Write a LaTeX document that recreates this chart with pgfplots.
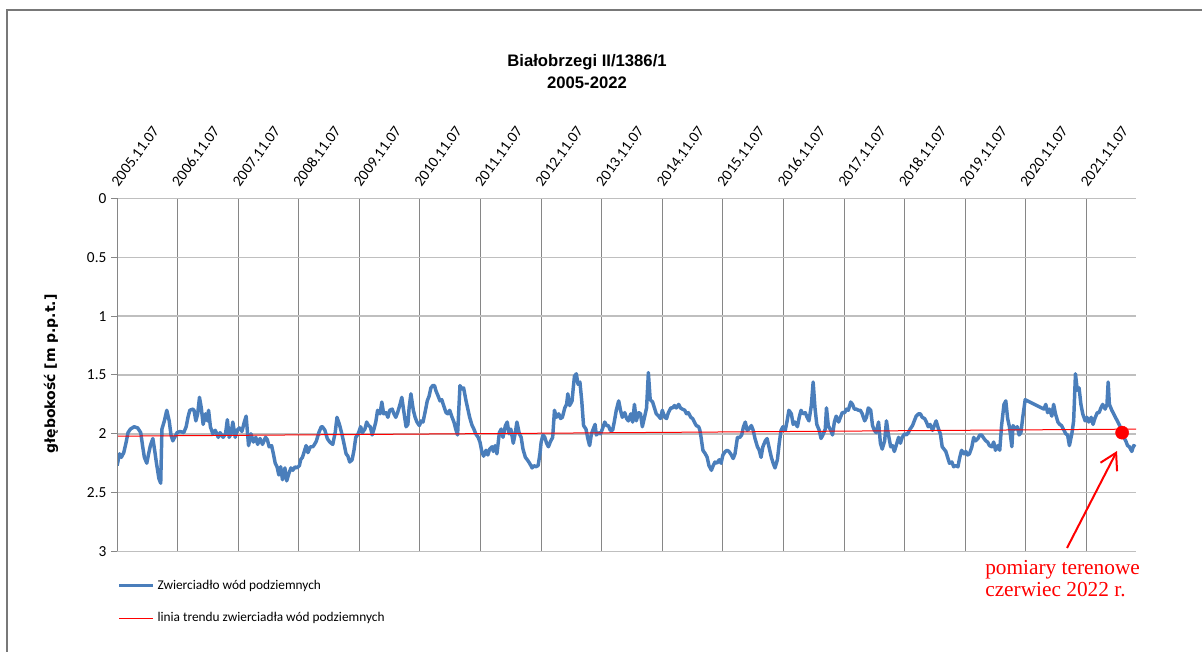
\documentclass[border=0pt]{standalone}
\usepackage{fontspec}
\setmainfont{Carlito}
\newfontfamily\titlefont{Liberation Sans}
\newfontfamily\labelfont{DejaVu Sans}
\newfontfamily\notefont{Liberation Serif}
\usepackage{pgfplots}
\pgfplotsset{compat=1.18}
\usetikzlibrary{arrows.meta}

\definecolor{seria}{RGB}{74,126,187}
\definecolor{trend}{RGB}{255,0,0}
\definecolor{siatkax}{RGB}{134,134,134}
\definecolor{siatkay}{RGB}{191,191,191}
\definecolor{ramka}{RGB}{120,120,120}

\begin{document}
\begin{tikzpicture}
\path[use as bounding box] (0pt,0pt) rectangle (901.5pt,-489pt);

\begin{axis}[
  at={(87.825pt,-413.6pt)}, anchor=south west,
  scale only axis, width=764.2pt, height=264.75pt,
  xmin=0, xmax=16.82, ymin=0, ymax=3, y dir=reverse,
  axis line style={draw=none},
  xtick={0,1,2,3,4,5,6,7,8,9,10,11,12,13,14,15,16},
  xticklabels={2005.11.07,2006.11.07,2007.11.07,2008.11.07,2009.11.07,2010.11.07,2011.11.07,2012.11.07,2013.11.07,2014.11.07,2015.11.07,2016.11.07,2017.11.07,2018.11.07,2019.11.07,2020.11.07,2021.11.07},
  xticklabel pos=right,
  xtick style={draw=none},
  xticklabel style={rotate=54, anchor=south west, inner sep=1pt, xshift=2.5pt, font=\fontsize{11.5}{13}\selectfont},
  ytick={0,0.5,1,1.5,2,2.5,3},
  ytick pos=left, tick align=outside, major tick length=4.5pt,
  ytick style={siatkax, line width=0.75pt},
  yticklabel style={font=\fontsize{11.5}{13}\selectfont},
  /pgf/number format/assume math mode=true,
  xmajorgrids, ymajorgrids,
  x grid style={siatkax, line width=0.75pt},
  y grid style={siatkay, line width=1.1pt},
  legend style={at={(axis description cs:0,-0.072)}, anchor=north west,
    draw=none, fill=none, inner sep=0pt, row sep=12pt,
    font=\fontsize{10}{12}\selectfont, cells={anchor=west}},
  legend image code/.code={\draw[#1] (0pt,0pt) -- (25.5pt,0pt);},
]

% zwierciadlo wod podziemnych (odczyt z wykresu), x = lata od 2005.11.07
\addplot[seria, line width=2.6pt, line join=round] coordinates {
(0.00,2.27) (0.04,2.17) (0.07,2.20) (0.11,2.16) (0.15,2.07) (0.18,1.99) (0.22,1.96) (0.28,1.94)
(0.34,1.95) (0.39,1.99) (0.42,2.10) (0.45,2.20) (0.49,2.25) (0.52,2.17) (0.55,2.10) (0.59,2.04)
(0.62,2.14) (0.65,2.25) (0.69,2.38) (0.72,2.42) (0.74,1.96) (0.78,1.89) (0.82,1.80) (0.86,1.89)
(0.89,2.01) (0.92,2.06) (0.95,2.03) (0.99,1.99) (1.04,1.98) (1.10,1.99) (1.14,1.94) (1.17,1.86)
(1.20,1.80) (1.25,1.79) (1.27,1.80) (1.30,1.89) (1.33,1.83) (1.36,1.69) (1.39,1.78) (1.42,1.92)
(1.46,1.83) (1.49,1.89) (1.51,1.80) (1.54,1.94) (1.58,2.00) (1.62,1.97) (1.67,2.03) (1.70,1.99)
(1.75,2.03) (1.79,2.00) (1.82,1.88) (1.85,2.03) (1.88,2.00) (1.91,1.90) (1.95,2.03) (1.98,1.97)
(2.02,1.95) (2.06,1.98) (2.10,1.90) (2.13,1.85) (2.17,2.10) (2.21,2.00) (2.25,2.07) (2.29,2.03)
(2.32,2.09) (2.36,2.04) (2.40,2.09) (2.45,2.03) (2.48,2.05) (2.51,2.11) (2.55,2.10) (2.58,2.17)
(2.61,2.25) (2.64,2.28) (2.67,2.35) (2.70,2.28) (2.73,2.39) (2.77,2.29) (2.80,2.40) (2.84,2.33)
(2.87,2.29) (2.90,2.31) (2.94,2.28) (2.97,2.29) (3.01,2.27) (3.03,2.22) (3.06,2.20) (3.09,2.15)
(3.12,2.10) (3.15,2.16) (3.19,2.11) (3.23,2.11) (3.26,2.09) (3.29,2.06) (3.33,1.99) (3.37,1.94)
(3.39,1.94) (3.43,1.97) (3.47,2.04) (3.51,2.07) (3.56,2.09) (3.60,1.99) (3.63,1.86) (3.67,1.92)
(3.71,2.00) (3.74,2.07) (3.78,2.17) (3.81,2.19) (3.84,2.24) (3.88,2.22) (3.91,2.14) (3.94,2.03)
(3.98,2.00) (4.02,1.94) (4.05,1.99) (4.09,1.96) (4.12,1.90) (4.15,1.93) (4.18,1.94) (4.21,2.01)
(4.24,1.96) (4.27,1.90) (4.30,1.80) (4.34,1.83) (4.37,1.73) (4.40,1.83) (4.44,1.82) (4.47,1.86)
(4.50,1.80) (4.54,1.79) (4.57,1.83) (4.60,1.86) (4.63,1.82) (4.67,1.75) (4.70,1.69) (4.73,1.80)
(4.77,1.94) (4.80,1.92) (4.82,1.78) (4.85,1.66) (4.89,1.80) (4.92,1.86) (4.95,1.90) (4.99,1.93)
(5.02,1.89) (5.05,1.90) (5.09,1.80) (5.12,1.72) (5.15,1.68) (5.18,1.61) (5.21,1.59) (5.24,1.59)
(5.26,1.63) (5.30,1.68) (5.33,1.72) (5.36,1.71) (5.39,1.76) (5.43,1.82) (5.46,1.83) (5.49,1.80)
(5.53,1.86) (5.56,1.90) (5.59,1.96) (5.62,2.01) (5.66,1.59) (5.69,1.62) (5.72,1.61) (5.76,1.72)
(5.79,1.79) (5.82,1.86) (5.86,1.93) (5.89,1.96) (5.92,2.00) (5.96,2.03) (5.99,2.07) (6.02,2.15)
(6.05,2.19) (6.09,2.14) (6.12,2.18) (6.15,2.13) (6.19,2.11) (6.21,2.15) (6.24,2.10) (6.27,2.17)
(6.31,1.99) (6.34,1.96) (6.37,2.03) (6.41,1.93) (6.44,1.90) (6.47,2.00) (6.50,1.96) (6.54,2.08)
(6.57,2.00) (6.60,1.90) (6.64,2.00) (6.67,2.03) (6.70,2.13) (6.74,2.20) (6.77,2.22) (6.81,2.25)
(6.85,2.29) (6.88,2.27) (6.91,2.28) (6.95,2.27) (6.98,2.17) (7.00,2.07) (7.03,2.01) (7.06,2.03)
(7.09,2.08) (7.12,2.11) (7.15,2.07) (7.19,2.03) (7.22,1.80) (7.25,1.86) (7.29,1.83) (7.32,1.87)
(7.35,1.86) (7.39,1.78) (7.42,1.75) (7.44,1.66) (7.47,1.76) (7.51,1.72) (7.53,1.61) (7.55,1.51)
(7.58,1.49) (7.61,1.58) (7.64,1.56) (7.67,1.72) (7.70,1.93) (7.74,1.96) (7.77,2.04) (7.80,2.10)
(7.83,2.00) (7.86,1.96) (7.89,1.92) (7.91,2.01) (7.95,1.99) (7.98,2.00) (8.01,1.96) (8.05,1.90)
(8.08,1.93) (8.11,1.93) (8.14,1.97) (8.18,1.97) (8.21,1.89) (8.24,1.80) (8.28,1.72) (8.31,1.80)
(8.34,1.86) (8.38,1.82) (8.41,1.87) (8.44,1.89) (8.48,1.83) (8.51,1.90) (8.54,1.75) (8.57,1.89)
(8.61,1.82) (8.64,1.83) (8.67,1.94) (8.71,1.85) (8.74,1.78) (8.77,1.48) (8.80,1.71) (8.84,1.73)
(8.87,1.78) (8.90,1.83) (8.94,1.85) (8.97,1.87) (9.00,1.80) (9.04,1.86) (9.07,1.87) (9.10,1.82)
(9.14,1.78) (9.17,1.78) (9.20,1.76) (9.23,1.78) (9.27,1.75) (9.30,1.78) (9.33,1.79) (9.37,1.80)
(9.40,1.83) (9.43,1.82) (9.47,1.86) (9.50,1.87) (9.53,1.90) (9.56,1.93) (9.60,1.94) (9.62,1.97)
(9.64,2.03) (9.67,2.14) (9.71,2.17) (9.74,2.20) (9.77,2.27) (9.81,2.31) (9.84,2.27) (9.87,2.24)
(9.90,2.25) (9.94,2.22) (9.97,2.25) (10.00,2.18) (10.04,2.15) (10.07,2.14) (10.10,2.15) (10.14,2.18)
(10.17,2.21) (10.20,2.17) (10.24,2.03) (10.28,2.03) (10.31,2.01) (10.34,1.94) (10.37,1.90) (10.40,1.97)
(10.43,1.96) (10.47,1.93) (10.50,1.97) (10.53,2.04) (10.57,2.11) (10.60,2.14) (10.63,2.20) (10.66,2.11)
(10.70,2.06) (10.73,2.04) (10.76,2.11) (10.80,2.20) (10.83,2.25) (10.86,2.29) (10.90,2.22) (10.93,2.08)
(10.96,1.97) (10.99,1.94) (11.03,1.97) (11.06,1.89) (11.09,1.80) (11.13,1.83) (11.16,1.92) (11.19,1.90)
(11.23,1.94) (11.26,1.86) (11.29,1.80) (11.32,1.83) (11.36,1.82) (11.39,1.86) (11.42,1.89) (11.46,1.76)
(11.49,1.56) (11.52,1.78) (11.55,1.92) (11.59,1.97) (11.62,2.04) (11.65,2.01) (11.69,1.96) (11.71,1.78)
(11.74,1.93) (11.78,1.97) (11.81,2.01) (11.84,1.90) (11.87,1.85) (11.91,1.90) (11.94,1.86) (11.97,1.82)
(12.01,1.82) (12.04,1.79) (12.07,1.80) (12.11,1.73) (12.14,1.75) (12.17,1.79) (12.20,1.79) (12.24,1.80)
(12.27,1.80) (12.30,1.83) (12.34,1.89) (12.37,1.86) (12.40,1.78) (12.44,1.80) (12.47,1.93) (12.50,1.97)
(12.53,1.99) (12.57,1.90) (12.60,2.08) (12.63,2.13) (12.67,2.06) (12.70,1.89) (12.73,2.00) (12.77,2.11)
(12.80,2.10) (12.83,2.15) (12.86,2.10) (12.90,2.03) (12.93,2.08) (12.96,2.03) (13.00,2.00) (13.03,2.01)
(13.06,1.99) (13.09,1.96) (13.13,1.93) (13.16,1.89) (13.19,1.85) (13.23,1.83) (13.26,1.83) (13.29,1.86)
(13.33,1.87) (13.36,1.90) (13.39,1.94) (13.42,1.92) (13.46,1.97) (13.49,1.93) (13.52,1.89) (13.56,1.96)
(13.59,2.00) (13.62,2.11) (13.68,2.15) (13.71,2.20) (13.74,2.25) (13.78,2.24) (13.81,2.28) (13.84,2.27)
(13.88,2.28) (13.91,2.20) (13.94,2.14) (13.98,2.17) (14.01,2.15) (14.04,2.18) (14.07,2.17) (14.11,2.11)
(14.14,2.03) (14.17,2.06) (14.21,2.04) (14.24,2.01) (14.27,2.01) (14.31,2.04) (14.34,2.06) (14.37,2.07)
(14.40,2.10) (14.44,2.11) (14.47,2.07) (14.50,2.14) (14.54,2.10) (14.57,2.14) (14.60,1.93) (14.64,1.75)
(14.67,1.72) (14.70,1.87) (14.73,1.94) (14.77,2.11) (14.79,1.93) (14.82,1.96) (14.86,1.94) (14.89,2.01)
(14.92,1.99) (14.95,1.86) (14.99,1.71) (15.30,1.79) (15.33,1.75) (15.36,1.82) (15.39,1.79) (15.43,1.85)
(15.46,1.75) (15.49,1.83) (15.53,1.90) (15.56,1.92) (15.59,1.93) (15.63,1.97) (15.66,2.00) (15.69,2.01)
(15.72,2.10) (15.76,2.00) (15.79,1.89) (15.82,1.49) (15.85,1.63) (15.88,1.61) (15.91,1.75) (15.94,1.83)
(15.98,1.89) (16.01,1.86) (16.04,1.90) (16.08,1.86) (16.11,1.92) (16.14,1.87) (16.18,1.82) (16.21,1.82)
(16.24,1.78) (16.27,1.75) (16.31,1.79) (16.34,1.75) (16.36,1.56) (16.38,1.75) (16.42,1.80) (16.45,1.83)
(16.48,1.86) (16.52,1.90) (16.55,1.93) (16.59,1.99) (16.62,2.03) (16.65,2.06) (16.68,2.10) (16.71,2.11)
(16.75,2.15) (16.78,2.10) (16.81,2.11)
};
\addlegendentry{Zwierciadło wód podziemnych}

% linia trendu
\addplot[trend, line width=0.75pt] coordinates {(0,2.02) (16.82,1.96)};
\addlegendentry{linia trendu zwierciadła wód podziemnych}

% pomiar terenowy czerwiec 2022
\addplot[only marks, mark=*, mark size=4.9pt, color=trend, forget plot] coordinates {(16.59,1.99)};

\draw[siatkax, line width=0.75pt] (rel axis cs:0,0) -- (rel axis cs:0,1);
\end{axis}

\begin{scope}[x=0.75pt, y=-0.75pt]
  \draw[ramka, line width=1.2pt] (7,670) -- (7,10) -- (1220,10);
  \node[font=\titlefont\bfseries\fontsize{12.5}{14}\selectfont, anchor=base] at (587,67) {Białobrzegi II/1386/1};
  \node[font=\titlefont\bfseries\fontsize{12.5}{14}\selectfont, anchor=base] at (587,89) {2005-2022};
  \node[font=\labelfont\bfseries\fontsize{10.5}{12}\selectfont, rotate=90] at (51,374) {głębokość [m p.p.t.]};
  \draw[trend, line width=1.5pt, -{Straight Barb[length=12pt, width=14pt]}] (1067,548) -- (1117,451);
  \node[font=\notefont\fontsize{16}{18}\selectfont, text=trend, anchor=base west, inner sep=0pt] at (985,574) {pomiary terenowe};
  \node[font=\notefont\fontsize{16}{18}\selectfont, text=trend, anchor=base west, inner sep=0pt] at (985,596) {czerwiec 2022 r.};
\end{scope}
\end{tikzpicture}
\end{document}
